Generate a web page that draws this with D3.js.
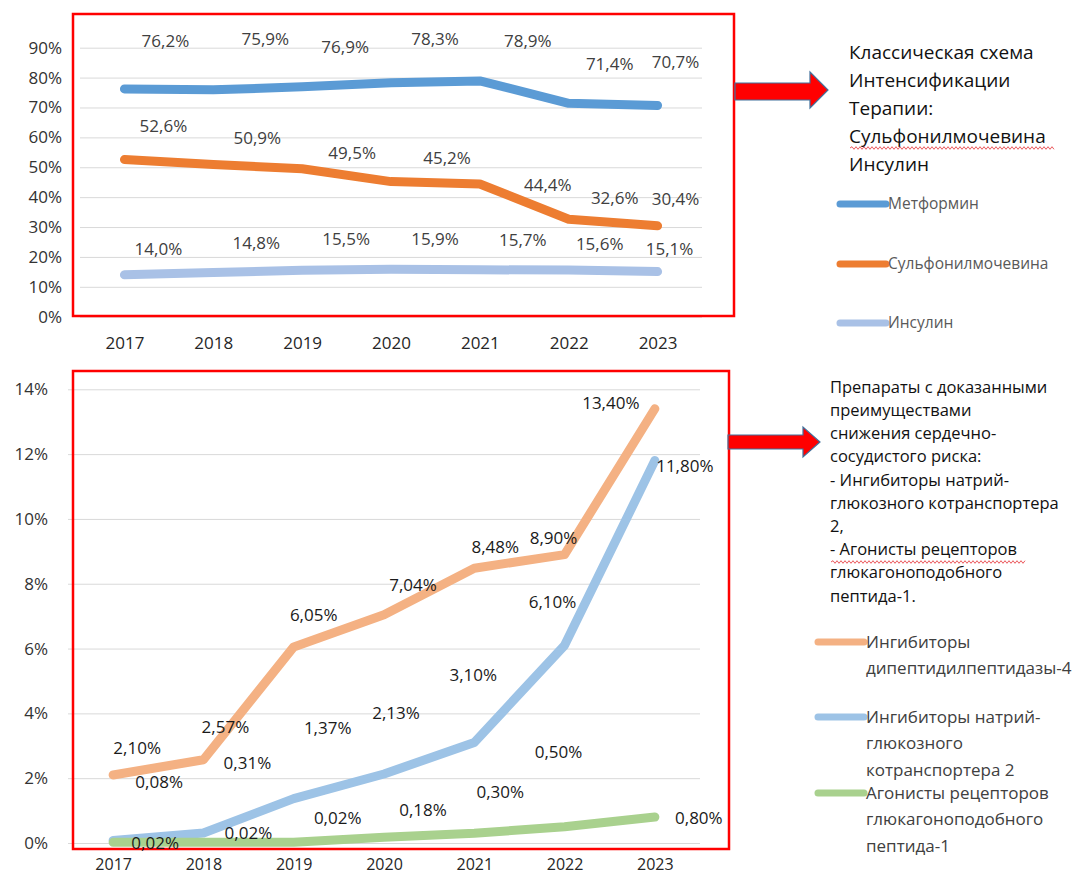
<!DOCTYPE html>
<html>
<head>
<meta charset="utf-8">
<script src="https://cdn.jsdelivr.net/npm/d3@7"></script>
<style>
  body { margin: 0; background: #fff; }
  text { font-family: "Open Sans", "Noto Sans", sans-serif; }
</style>
</head>
<body>
<div id="chart"></div>
<script>
// data
var years = ["2017", "2018", "2019", "2020", "2021", "2022", "2023"];
var metformin = [76.2, 75.9, 76.9, 78.3, 78.9, 71.4, 70.7];
var sulfonyl = [52.6, 50.9, 49.5, 45.2, 44.4, 32.6, 30.4];
var insulin = [14.0, 14.8, 15.5, 15.9, 15.7, 15.6, 15.1];
var dpp4 = [2.10, 2.57, 6.05, 7.04, 8.48, 8.90, 13.40];
var sglt2 = [0.08, 0.31, 1.37, 2.13, 3.10, 6.10, 11.80];
var glp1 = [0.02, 0.02, 0.02, 0.18, 0.30, 0.50, 0.80];
var topTicks = [0, 10, 20, 30, 40, 50, 60, 70, 80, 90];
var bottomTicks = [0, 2, 4, 6, 8, 10, 12, 14];

var topNames = ["Метформин", "Сульфонилмочевина", "Инсулин"];
var bottomNames = [["Ингибиторы", "дипептидилпептидазы-4"],
                   ["Ингибиторы натрий-", "глюкозного", "котранспортера 2"],
                   ["Агонисты рецепторов", "глюкагоноподобного", "пептида-1"]];
var topNote = ["Классическая схема", "Интенсификации", "Терапии:", "Сульфонилмочевина", "Инсулин"];
var bottomNote = ["Препараты с доказанными", "преимуществами", "снижения сердечно-",
                  "сосудистого риска:", "- Ингибиторы натрий-", "глюкозного котранспортера",
                  "2,", "- Агонисты рецепторов", "глюкагоноподобного", "пептида-1."];

// label nudges (px, relative to the point) - labels in the original were dragged around
var topShift = [
  [[41,-48],[52,-51],[43,-40],[44,-44],[48,-40],[41,-39],[18,-43]],
  [[39,-33],[44,-27],[50,-16],[56,-24],[68,1],[46,-21],[18,-27]],
  [[34,-26],[43,-29],[44,-31],[44,-30],[43,-30],[31,-26],[12,-23]]
];
var bottomShift = [
  [[24,-27],[22,-33],[20,-32],[29,-30],[21,-21],[-11,-17],[-44,-6]],
  [[46,-58],[44,-70],[34,-71],[12,-61],[-1,-67],[-12,-43],[30,5]],
  [[42,1],[45,-9],[44,-24],[39,-27],[26,-41],[-6,-75],[44,1]]
];

var svg = d3.select("#chart").append("svg").attr("width", 1092).attr("height", 879);
svg.append("rect").attr("width", 1092).attr("height", 879).attr("fill", "#fff");

function fmt(v, dec) { return v.toFixed(dec).replace(".", ",") + "%"; }

function panel(o) {
  var x = d3.scalePoint().domain(years).range([o.x0, o.x1]).padding(0.5);
  var y = d3.scaleLinear().domain([0, o.max]).range([o.y0, o.y1]);
  var g = svg.append("g");

  var ya = g.append("g").attr("transform", "translate(" + o.x0 + ",0)")
    .call(d3.axisLeft(y).tickValues(o.ticks).tickSize(-(o.x1 - o.x0)).tickPadding(o.pad)
      .tickFormat(function(d){ return d + "%"; }));
  ya.select(".domain").remove();
  ya.selectAll("line").attr("stroke", "#d9d9d9").attr("stroke-width", 1);
  ya.selectAll("text").attr("font-size", 17).attr("fill", "#333");

  var xa = g.append("g").attr("transform", "translate(0," + o.y0 + ")")
    .call(d3.axisBottom(x).tickSize(0).tickPadding(o.xpad));
  xa.select(".domain").remove();
  xa.selectAll("text").attr("font-size", o.yearSize).attr("fill", "#262626");

  // red frame
  g.append("rect").attr("x", o.fx).attr("y", o.fy).attr("width", o.fw).attr("height", o.fh)
    .attr("fill", "none").attr("stroke", "#ff0000").attr("stroke-width", 2.5);

  var line = d3.line().x(function(d, i){ return x(years[i]); }).y(function(d){ return y(d); });
  o.series.forEach(function(s, k) {
    g.append("path").datum(s).attr("d", line).attr("fill", "none")
      .attr("stroke", o.colors[k]).attr("stroke-width", 9)
      .attr("stroke-linecap", "round").attr("stroke-linejoin", "round");
  });
  o.series.forEach(function(s, k) {
    g.selectAll(null).data(s).enter().append("text")
      .attr("x", function(d, i){ return x(years[i]) + o.shift[k][i][0]; })
      .attr("y", function(d, i){ return y(d) + o.shift[k][i][1]; })
      .attr("dy", "0.35em").attr("text-anchor", "middle")
      .attr("font-size", 17).attr("fill", o.labelColor)
      .text(function(d){ return fmt(d, o.dec); });
  });
}

panel({
  x0: 80, x1: 702, y0: 316.7, y1: 47.7, max: 90, ticks: topTicks, pad: 18, xpad: 20, yearSize: 17,
  fx: 73, fy: 14, fw: 661, fh: 302,
  series: [metformin, sulfonyl, insulin],
  colors: ["#5b9bd5", "#ed7d31", "#a9c1e6"],
  shift: topShift, dec: 1, labelColor: "#404040"
});

panel({
  x0: 68, x1: 700, y0: 843, y1: 389.3, max: 14, ticks: bottomTicks, pad: 20, xpad: 16, yearSize: 16,
  fx: 73, fy: 371, fw: 656, fh: 478,
  series: [dpp4, sglt2, glp1],
  colors: ["#f4b183", "#9dc3e6", "#a9d18e"],
  shift: bottomShift, dec: 2, labelColor: "#1a1a1a"
});

// arrows
function arrow(pts) {
  svg.append("path").attr("d", "M" + pts.join("L") + "Z")
    .attr("fill", "#ff0000").attr("stroke", "#41719c").attr("stroke-width", 1.2);
}
arrow([[735,83],[810,83],[810,72],[828,90],[810,108],[810,100],[735,100]]);
arrow([[728,435],[803,435],[803,427],[820,442],[803,457],[803,449],[728,449]]);

// notes
function wavy(x0, x1, yy) {
  var d = "M" + x0 + "," + yy;
  for (var xx = x0, up = true; xx < x1; xx += 2, up = !up) d += "L" + (xx + 2) + "," + (yy + (up ? -1.3 : 1.3));
  svg.append("path").attr("d", d).attr("fill", "none").attr("stroke", "#e8474c").attr("stroke-width", 0.9);
}
svg.append("g").selectAll("text").data(topNote).enter().append("text")
  .attr("x", 849).attr("y", function(d, i){ return 52 + i * 28; }).attr("dy", "0.35em")
  .attr("font-size", 19).attr("fill", "#111").text(function(d){ return d; });
wavy(850, 1054, 148);

svg.append("g").selectAll("text").data(bottomNote).enter().append("text")
  .attr("x", 830).attr("y", function(d, i){ return 387 + i * 23.2; }).attr("dy", "0.35em")
  .attr("font-size", 16.5).attr("fill", "#111").text(function(d){ return d; });
wavy(831, 1024, 562);

// legends
var topColors = ["#5b9bd5", "#ed7d31", "#a9c1e6"];
var topLegY = [204, 264, 323];
topNames.forEach(function(n, i) {
  svg.append("line").attr("x1", 840).attr("x2", 886).attr("y1", topLegY[i]).attr("y2", topLegY[i])
    .attr("stroke", topColors[i]).attr("stroke-width", 7).attr("stroke-linecap", "round");
  svg.append("text").attr("x", 888).attr("y", topLegY[i]).attr("dy", "0.35em")
    .attr("font-size", 15.5).attr("fill", "#595959").text(n);
});

var botColors = ["#f4b183", "#9dc3e6", "#a9d18e"];
var botLegY = [642, 717, 793];
bottomNames.forEach(function(n, i) {
  svg.append("line").attr("x1", 818).attr("x2", 864).attr("y1", botLegY[i]).attr("y2", botLegY[i])
    .attr("stroke", botColors[i]).attr("stroke-width", 7).attr("stroke-linecap", "round");
  svg.append("g").selectAll("text").data(n).enter().append("text")
    .attr("x", 866).attr("y", function(d, j){ return botLegY[i] + j * 26.5; }).attr("dy", "0.35em")
    .attr("font-size", 17).attr("fill", "#404040").text(function(d){ return d; });
});
</script>
</body>
</html>
